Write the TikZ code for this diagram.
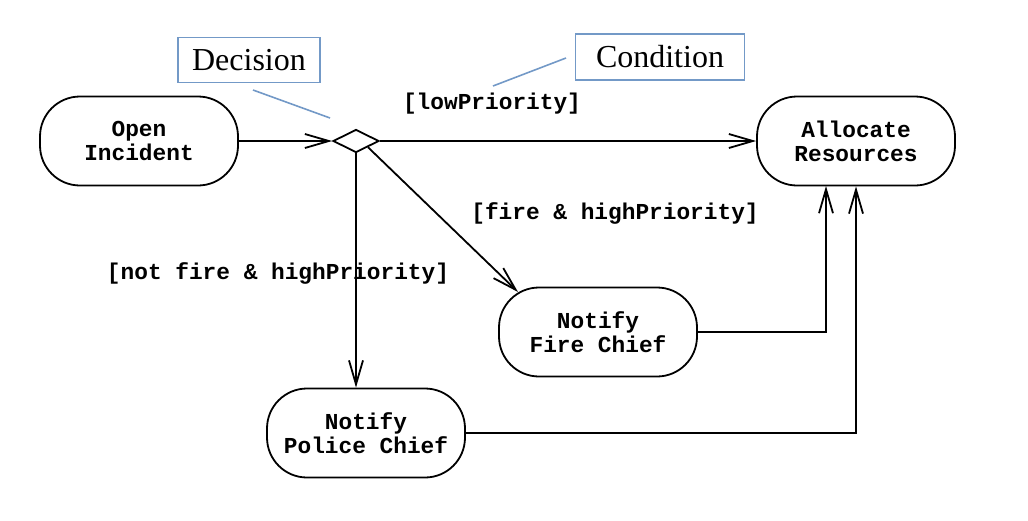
\documentclass[tikz,border=0pt]{standalone}
\usepackage{fontspec}
\setmainfont{Liberation Serif}
\newfontfamily\monob{Liberation Mono}
\usetikzlibrary{shapes.geometric,arrows.meta}
\definecolor{callout}{rgb}{0.45,0.6,0.78}
\begin{document}
\begin{tikzpicture}[x=0.5pt,y=-0.5pt,
  activity/.style={draw,line width=0.9pt,rounded corners=20pt,minimum width=99pt,minimum height=44.5pt,align=center,inner sep=2pt,font=\monob\bfseries\fontsize{11.4}{12}\selectfont},
  guard/.style={font=\monob\bfseries\fontsize{11.4}{12}\selectfont,inner sep=0pt},
  notebox/.style={draw=callout,line width=0.7pt,font=\fontsize{16}{18}\selectfont,inner sep=0pt},
  flow/.style={line width=0.9pt,-{Straight Barb[length=12pt,width=7pt,line width=0.9pt]}},
  plain/.style={line width=0.9pt},
  leader/.style={draw=callout,line width=0.8pt}]
\useasboundingbox (0,0) rectangle (1028,520);
\node[activity] (open) at (139,141) {Open\\Incident};
\node[activity] (alloc) at (856,141) {Allocate\\Resources};
\node[activity] (fire) at (598,332) {Notify\\Fire Chief};
\node[activity] (police) at (366,433) {Notify\\Police Chief};
\node[draw,line width=0.9pt,diamond,aspect=2,minimum width=23pt,minimum height=11.5pt,inner sep=0pt] (dia) at (356,141) {};
\node[notebox,minimum width=71pt,minimum height=22.5pt] (dec) at (249,60) {Decision};
\node[notebox,minimum width=84.5pt,minimum height=23pt] (cond) at (660,57) {Condition};
\node[guard] (low) at (492,104) {[lowPriority]};
\node[guard] (fh) at (615,213) {[fire \& highPriority]};
\node[guard] (nfh) at (278,273) {[not fire \& highPriority]};
\coordinate (decA) at (253,90);
\coordinate (decB) at (330,118);
\coordinate (condA) at (493,86);
\coordinate (condB) at (566,58);
\coordinate (fireIn) at (518,292);
\coordinate (fireUp) at (826,186);
\draw[leader] (decA) -- (decB);
\draw[leader] (condA) -- (condB);
\draw[flow] (open.east) -- (dia.west);
\draw[flow] (dia.east) -- (alloc.west);
\draw[flow] (dia.south) -- (dia.south |- police.north);
\draw[flow] (dia.south east) -- (fireIn);
\draw[plain] (fire.east) -| ([yshift=-8pt]fireUp);
\draw[flow] ([yshift=-10pt]fireUp) -- (fireUp);
\draw[plain] (police.east) -| ([yshift=-8pt]alloc.south);
\draw[flow] ([yshift=-10pt]alloc.south) -- (alloc.south);
\end{tikzpicture}
\end{document}
